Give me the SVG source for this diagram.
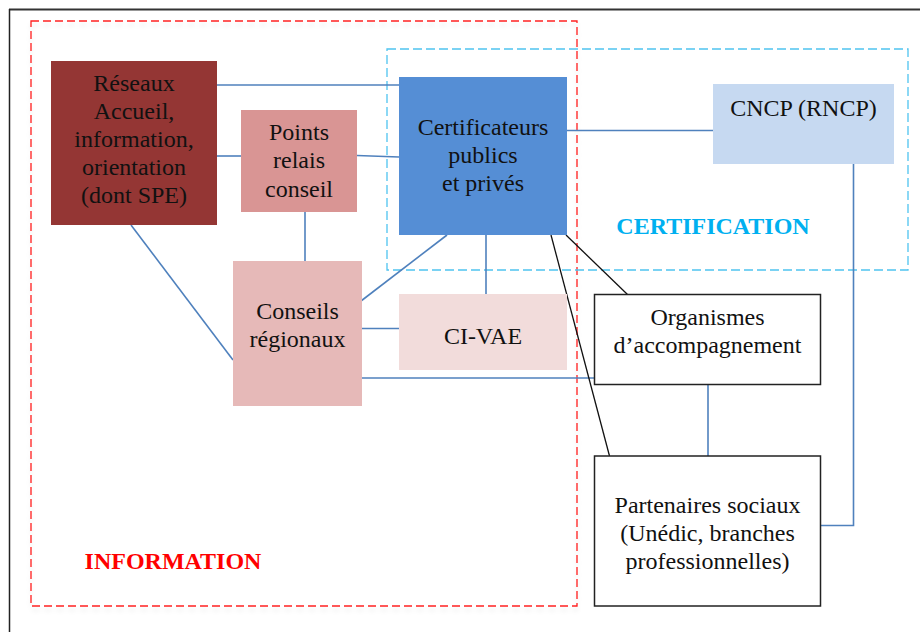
<svg xmlns="http://www.w3.org/2000/svg" width="920" height="632" viewBox="0 0 920 632">
  <style>
    text { font-family: "Liberation Serif", "Times New Roman", serif; font-size: 24px; fill: #111; text-anchor: middle; }
    .title { font-weight: bold; font-size: 24px; }
    .blue { stroke: #4f81bd; stroke-width: 1.6; fill: none; }
    .black { stroke: #111; stroke-width: 1.3; fill: none; }
    .framed { fill: #fff; stroke: #222; stroke-width: 1.5; }
  </style>
  <defs>
    <filter id="shadow" x="-5%" y="-5%" width="110%" height="110%">
      <feDropShadow dx="0" dy="4" stdDeviation="2" flood-color="#000" flood-opacity="0.08"/>
    </filter>
  </defs>
  <rect width="920" height="632" fill="#fff"/>
  <!-- outer frame -->
  <g id="frame">
    <line x1="9" y1="9.5" x2="920" y2="9.5" stroke="#333" stroke-width="2"/>
    <line x1="9.5" y1="9" x2="9.5" y2="632" stroke="#222" stroke-width="1.5"/>
  </g>
  <!-- zones -->
  <g id="zone-information">
    <rect x="31" y="21" width="546" height="585" fill="none" stroke="#ff2020" stroke-width="1.3" stroke-dasharray="8 4" filter="url(#shadow)"/>
    <text class="title" x="173" y="569" style="fill:#ff0000">INFORMATION</text>
  </g>
  <g id="zone-certification">
    <rect x="387" y="49" width="521" height="221" fill="none" stroke="#4fc4f0" stroke-width="1.3" stroke-dasharray="9 4"/>
    <text class="title" x="713" y="234" style="fill:#00b0f0">CERTIFICATION</text>
  </g>
  <!-- connectors -->
  <g id="connectors">
    <line class="blue" x1="217" y1="85" x2="399" y2="85"/>
    <line class="blue" x1="217" y1="156" x2="241" y2="156"/>
    <line class="blue" x1="357" y1="155.5" x2="399" y2="157"/>
    <line class="blue" x1="305" y1="212" x2="305" y2="261"/>
    <line class="blue" x1="447" y1="235" x2="361" y2="301"/>
    <line class="blue" x1="486" y1="235" x2="486" y2="294"/>
    <line class="blue" x1="361" y1="328.5" x2="399" y2="328.5"/>
    <line class="blue" x1="361" y1="378" x2="594" y2="378"/>
    <line class="blue" x1="131" y1="225" x2="233" y2="360"/>
    <line class="blue" x1="567" y1="130.5" x2="713" y2="130.5"/>
    <polyline class="blue" points="853.5,164 853.5,525.5 821,525.5"/>
    <line class="blue" x1="708" y1="385" x2="708" y2="456"/>
    <line class="black" x1="566" y1="235" x2="627.5" y2="294.5"/>
    <line class="black" x1="551" y1="235" x2="609.5" y2="456"/>
  </g>
  <!-- nodes -->
  <g id="reseaux">
    <rect x="51" y="61" width="166" height="164" fill="#943634"/>
    <text x="134" y="91">Réseaux</text>
    <text x="134" y="119">Accueil,</text>
    <text x="134" y="147">information,</text>
    <text x="134" y="175">orientation</text>
    <text x="134" y="203">(dont SPE)</text>
  </g>
  <g id="points-relais">
    <rect x="241" y="110" width="116" height="102" fill="#d99594"/>
    <text x="299" y="140">Points</text>
    <text x="299" y="168">relais</text>
    <text x="299" y="196.5">conseil</text>
  </g>
  <g id="certificateurs">
    <rect x="399" y="77" width="168" height="158" fill="#558ed5"/>
    <text x="483" y="135">Certificateurs</text>
    <text x="483" y="163">publics</text>
    <text x="483" y="191">et privés</text>
  </g>
  <g id="cncp">
    <rect x="713" y="84" width="181" height="80" fill="#c6d9f1"/>
    <text x="803.5" y="116">CNCP (RNCP)</text>
  </g>
  <g id="conseils-regionaux">
    <rect x="233" y="261" width="129" height="145" fill="#e6b9b8"/>
    <text x="297.5" y="319">Conseils</text>
    <text x="297.5" y="347">régionaux</text>
  </g>
  <g id="ci-vae">
    <rect x="399" y="294" width="168" height="76" fill="#f2dcdb"/>
    <text x="483" y="344">CI-VAE</text>
  </g>
  <g id="organismes">
    <rect class="framed" x="594.5" y="294.5" width="226" height="90"/>
    <text x="707.5" y="325">Organismes</text>
    <text x="707.5" y="353">d’accompagnement</text>
  </g>
  <g id="partenaires">
    <rect class="framed" x="594.5" y="456" width="226" height="150"/>
    <text x="707.5" y="513">Partenaires sociaux</text>
    <text x="707.5" y="541">(Unédic, branches</text>
    <text x="707.5" y="569">professionnelles)</text>
  </g>
</svg>
